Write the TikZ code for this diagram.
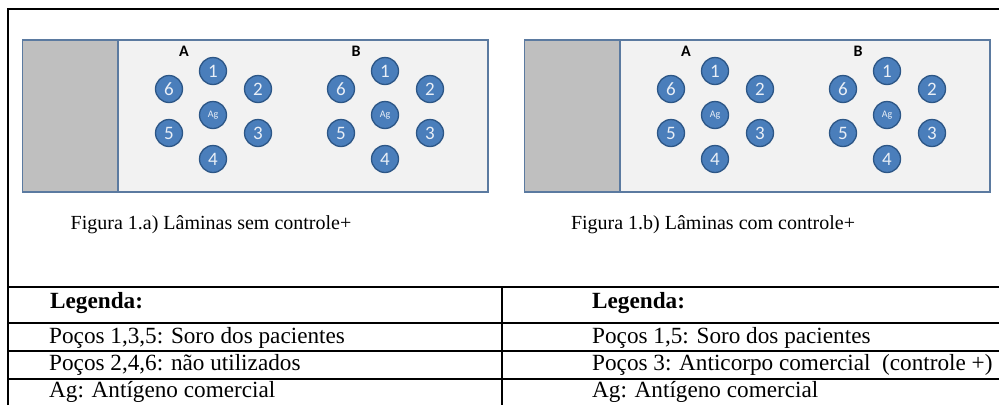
\documentclass[tikz,border=0pt]{standalone}
\usepackage{fontspec}
\setmainfont{Liberation Serif}
\newfontfamily\calibri{Carlito}

\definecolor{wellblue}{HTML}{4A7EBB}
\definecolor{wellrim}{HTML}{2C5686}
\definecolor{slideedge}{HTML}{5B7AA0}
\definecolor{slidefill}{HTML}{F2F2F2}
\definecolor{slidegrey}{HTML}{BFBFBF}

\tikzset{
    well/.style={circle, draw=wellrim, line width=1.3pt, fill=wellblue,
        minimum size=27pt, inner sep=0pt, text=white!88!wellblue,
        font=\calibri\fontsize{19}{19}\selectfont},
    agwell/.style={well, font=\calibri\fontsize{10}{10}\selectfont},
    grouplabel/.style={font=\calibri\bfseries\fontsize{16}{16}\selectfont},
    caption/.style={anchor=base, font=\fontsize{20}{24}\selectfont},
    legtext/.style={anchor=base west, inner sep=0pt, font=\fontsize{23.2}{26}\selectfont},
    rule/.style={line width=2pt}
}

\begin{document}
\begin{tikzpicture}[x=1pt, y=-1pt]
    \useasboundingbox (0, 0) rectangle (999, 405);

    % two slides, a) and b)
    \foreach \s/\dx/\txt in {a/0/sem, b/502/com} {
        \begin{scope}[xshift=\dx]
            \filldraw[draw=slideedge, line width=1.3pt, fill=slidefill]
                (22.7, 40) rectangle (488, 192);
            \filldraw[draw=slideedge, line width=1.3pt, fill=slidegrey]
                (22.7, 40) rectangle (118, 192);

            % groups A and B of wells
            \foreach \g/\gx in {A/0, B/172} {
                \begin{scope}[xshift=\gx]
                    \node[grouplabel] (\s\g-lab) at (184, 51) {\g};
                    \node[well] (\s\g-1) at (213, 71) {1};
                    \node[well] (\s\g-2) at (258, 89) {2};
                    \node[well] (\s\g-3) at (258, 133) {3};
                    \node[well] (\s\g-4) at (213, 159) {4};
                    \node[well] (\s\g-5) at (169, 133) {5};
                    \node[well] (\s\g-6) at (169, 89) {6};
                    \node[agwell] (\s\g-ag) at (213, 115) {Ag};
                \end{scope}
            }

            \node[caption] (\s-cap) at (211, 229) {Figura 1.\s) Lâminas \txt\ controle+};
        \end{scope}
    }

    % frame and legend table
    \draw[rule]
        (8, 405) -- (8, 9) -- (999, 9)
        (8, 287) -- (999, 287)
        (8, 323) -- (999, 323)
        (8, 351) -- (999, 351)
        (8, 379) -- (999, 379)
        (502, 287) -- (502, 405)
    ;

    \node[legtext] (lega) at (50, 308) {\textbf{Legenda:}};
    \node[legtext] (lega-1) at (49, 343) {Poços 1,3,5: Soro dos pacientes};
    \node[legtext] (lega-2) at (49, 370.5) {Poços 2,4,6: não utilizados};
    \node[legtext] (lega-3) at (49, 397) {Ag: Antígeno comercial};

    \node[legtext] (legb) at (592, 308) {\textbf{Legenda:}};
    \node[legtext] (legb-1) at (592, 343) {Poços 1,5: Soro dos pacientes};
    \node[legtext] (legb-2) at (592, 370.5) {Poços 3: Anticorpo comercial\ \ (controle +)};
    \node[legtext] (legb-3) at (592, 397) {Ag: Antígeno comercial};
\end{tikzpicture}
\end{document}
